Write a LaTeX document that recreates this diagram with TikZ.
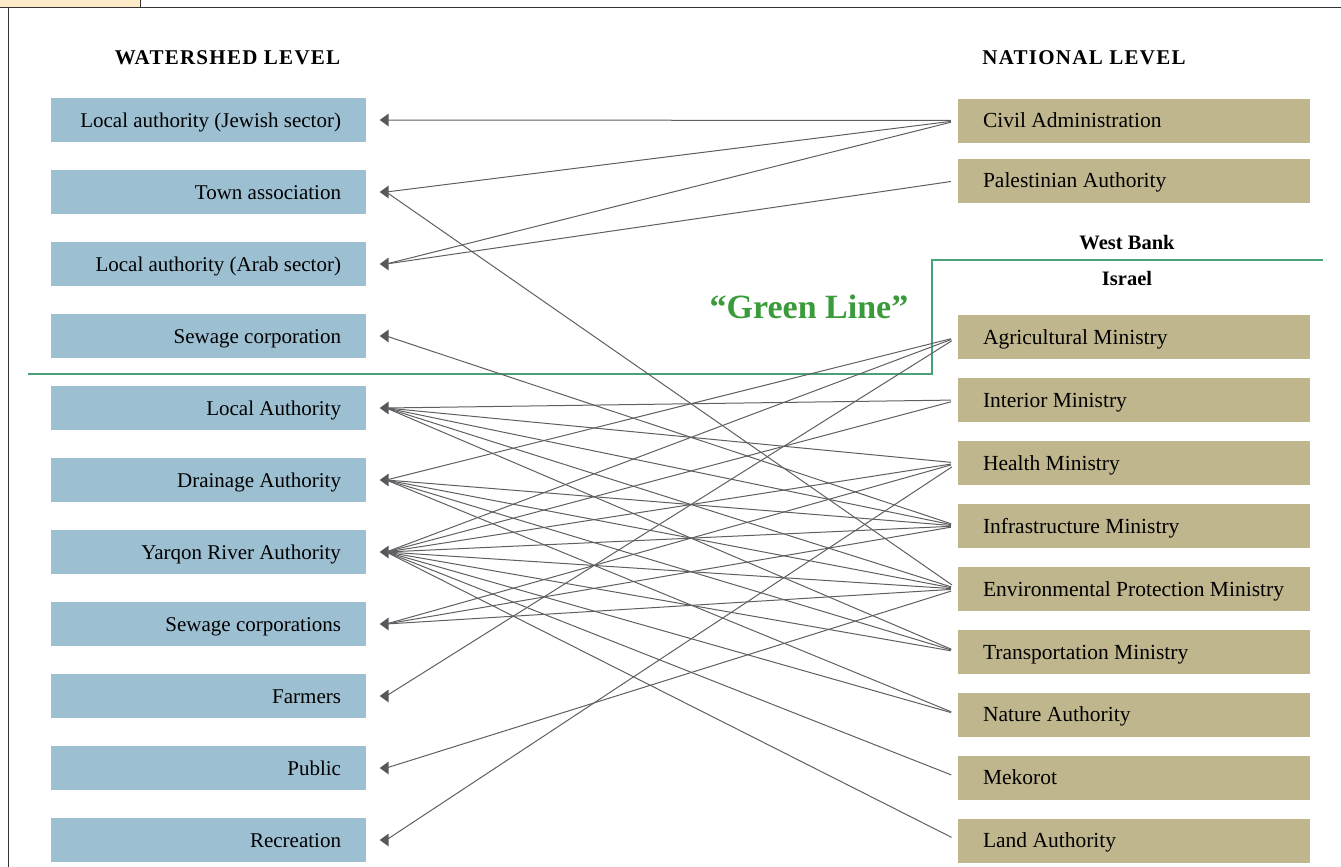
\documentclass[tikz,border=0pt]{standalone}
\usepackage{fontspec}
\setmainfont{Liberation Serif}
\usetikzlibrary{arrows.meta}
\definecolor{WatershedBlue}{RGB}{156, 191, 210}
\definecolor{NationalTan}{RGB}{192, 182, 141}
\definecolor{TabPeach}{RGB}{253, 234, 198}
\definecolor{LinkGray}{RGB}{95, 95, 98}
\definecolor{TipGray}{RGB}{85, 88, 92}
\definecolor{LineGreen}{RGB}{72, 162, 118}
\definecolor{TextGreen}{RGB}{58, 155, 58}
\tikzset{
  wsbox/.style={fill=WatershedBlue, inner xsep=25pt, inner ysep=0pt,
    minimum height=44pt, text height=14pt, text depth=0pt,
    execute at begin node={\hbox to 265pt\bgroup\hss}, execute at end node={\egroup},
    font=\fontsize{21}{24}\selectfont},
  natbox/.style={fill=NationalTan, inner xsep=25pt, inner ysep=0pt,
    minimum height=44pt, text height=14pt, text depth=0pt,
    execute at begin node={\hbox to 302pt\bgroup}, execute at end node={\hss\egroup},
    font=\fontsize{21.5}{24}\selectfont},
  levelhead/.style={font=\fontsize{21}{24}\selectfont\bfseries\addfontfeature{LetterSpace=6}},
  sidehead/.style={font=\fontsize{20.5}{24}\selectfont\bfseries},
  link/.style={draw=LinkGray, line width=1pt, shorten <=7pt}
}
\begin{document}
\begin{tikzpicture}[x=1pt, y=-1pt]
    \useasboundingbox (0, 0) rectangle (1341, 867);
    %边框
    \fill[TabPeach] (0, 0) rectangle (140, 8);
    \draw[line width=1pt, black!80] (140, 0) -- (140, 8);
    \draw[line width=1pt, black!80] (1341, 8) -- (0, 8);
    \draw[line width=1pt, black!80] (8, 8) -- (8, 867);
    %标题
    \node[levelhead] (wshead) at (227.5, 58) {WATERSHED LEVEL};
    \node[levelhead] (nathead) at (1084, 58) {NATIONAL LEVEL};
    %流域层级
    \node[wsbox] (jewish) at (208.5, 120) {Local authority (Jewish sector)};
    \node[wsbox] (town) at (208.5, 192) {Town association};
    \node[wsbox] (arab) at (208.5, 264) {Local authority (Arab sector)};
    \node[wsbox] (sewage) at (208.5, 336) {Sewage corporation};
    \node[wsbox] (local) at (208.5, 408) {Local Authority};
    \node[wsbox] (drainage) at (208.5, 480) {Drainage Authority};
    \node[wsbox] (yarqon) at (208.5, 552) {Yarqon River Authority};
    \node[wsbox] (sewcorps) at (208.5, 624) {Sewage corporations};
    \node[wsbox] (farmers) at (208.5, 696) {Farmers};
    \node[wsbox] (public) at (208.5, 768) {Public};
    \node[wsbox] (recreation) at (208.5, 840) {Recreation};
    %国家层级
    \node[natbox] (civil) at (1134, 120.5) {Civil Administration};
    \node[natbox] (palestinian) at (1134, 180.5) {Palestinian Authority};
    \node[natbox] (agri) at (1134, 337) {Agricultural Ministry};
    \node[natbox] (interior) at (1134, 400) {Interior Ministry};
    \node[natbox] (health) at (1134, 463) {Health Ministry};
    \node[natbox] (infra) at (1134, 526) {Infrastructure Ministry};
    \node[natbox] (envprot) at (1134, 589) {Environmental Protection Ministry};
    \node[natbox] (transport) at (1134, 652) {Transportation Ministry};
    \node[natbox] (nature) at (1134, 714.5) {Nature Authority};
    \node[natbox] (mekorot) at (1134, 777.5) {Mekorot};
    \node[natbox] (land) at (1134, 840.5) {Land Authority};
    %箭头
    \foreach \n in {jewish, town, arab, sewage, local, drainage, yarqon, sewcorps, farmers, public, recreation} {
        \coordinate (\n-in) at ([xshift=20pt]\n.east);
        \fill[TipGray] ([xshift=-6.5pt]\n-in) -- ++(9, -6.5) -- ++(0, 13) -- cycle;
    }
    %绿线
    \draw[LineGreen, line width=1.2pt] (28, 374) -- (932, 374) -- (932, 260) -- (1323, 260);
    \node[font=\fontsize{34}{40}\selectfont\bfseries, text=TextGreen] (greenline) at (809, 307) {“Green Line”};
    \node[sidehead] (westbank) at (1127, 243) {West Bank};
    \node[sidehead] (israel) at (1127, 278) {Israel};
    %连线
    \draw[link] (civil.west) -- (jewish-in);
    \draw[link] (civil.west) -- (town-in);
    \draw[link] (civil.west) -- (arab-in);
    \draw[link] (palestinian.west) -- (arab-in);
    \draw[link] (envprot.west) -- (town-in);
    \draw[link] (infra.west) -- (sewage-in);
    \draw[link] (agri.west) -- (drainage-in);
    \draw[link] (agri.west) -- (yarqon-in);
    \draw[link] (agri.west) -- (farmers-in);
    \draw[link] (interior.west) -- (local-in);
    \draw[link] (interior.west) -- (yarqon-in);
    \draw[link] (health.west) -- (local-in);
    \draw[link] (health.west) -- (yarqon-in);
    \draw[link] (health.west) -- (sewcorps-in);
    \draw[link] (health.west) -- (recreation-in);
    \draw[link] (infra.west) -- (local-in);
    \draw[link] (infra.west) -- (drainage-in);
    \draw[link] (infra.west) -- (yarqon-in);
    \draw[link] (infra.west) -- (sewcorps-in);
    \draw[link] (envprot.west) -- (local-in);
    \draw[link] (envprot.west) -- (drainage-in);
    \draw[link] (envprot.west) -- (yarqon-in);
    \draw[link] (envprot.west) -- (sewcorps-in);
    \draw[link] (envprot.west) -- (public-in);
    \draw[link] (transport.west) -- (local-in);
    \draw[link] (transport.west) -- (drainage-in);
    \draw[link] (transport.west) -- (yarqon-in);
    \draw[link] (nature.west) -- (drainage-in);
    \draw[link] (nature.west) -- (yarqon-in);
    \draw[link] (mekorot.west) -- (yarqon-in);
    \draw[link] (land.west) -- (yarqon-in);
\end{tikzpicture}
\end{document}
